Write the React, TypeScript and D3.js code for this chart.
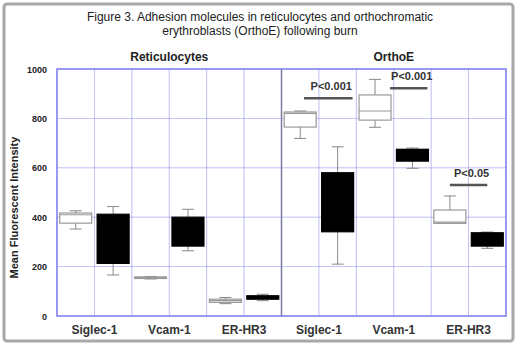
import { useEffect, useRef } from 'react'
import * as d3 from 'd3'

// one entry per box, left to right (reticulocytes then OrthoE)
const groups = ['Reticulocytes', 'OrthoE']
const markers = ['Siglec-1', 'Vcam-1', 'ER-HR3']
const boxFill = ['white', 'black', 'white', 'black', 'white', 'black', 'white', 'black', 'white', 'black', 'white', 'black']
const whiskerLow = [352, 166, 150, 264, 50, 62, 719, 210, 764, 598, 375, 274]
const q1 = [376, 213, 153, 283, 55, 68, 765, 341, 793, 627, 375, 283]
const median = [410, 300, 156, 340, 62, 75, 820, 450, 830, 668, 380, 300]
const q3 = [417, 412, 158, 400, 68, 82, 826, 580, 895, 675, 429, 337]
const whiskerHigh = [426, 443, 160, 432, 75, 88, 830, 685, 958, 680, 486, 340]

const yTicks = [0, 200, 400, 600, 800, 1000]

// significance bars: start/end in slot units, value level
const sigLabels = ['P<0.001', 'P<0.001', 'P<0.05']
const sigFrom = [6.6, 8.9, 10.5]
const sigTo = [7.9, 9.9, 11.5]
const sigLevel = [882, 922, 530]

export default function App() {
  const svgRef = useRef<SVGSVGElement | null>(null)
  const width = 520
  const height = 346

  useEffect(() => {
    if (!svgRef.current) return
    const svg = d3.select(svgRef.current)
    svg.selectAll('*').remove()

    const left = 57
    const right = 506
    const top = 69
    const bottom = 316
    const font = 'Arial, "Liberation Sans", sans-serif'
    const grid = '#8c8cf0'

    svg.append('rect')
      .attr('x', 4).attr('y', 4).attr('width', 509).attr('height', 337)
      .attr('rx', 3)
      .attr('fill', 'white').attr('stroke', '#a8a8a8').attr('stroke-width', 3)

    const slots = d3.range(12)
    const x = d3.scaleLinear().domain([0, 12]).range([left, right])
    const y = d3.scaleLinear().domain([0, 1000]).range([bottom, top])

    svg.append('text')
      .attr('x', 260).attr('y', 21)
      .attr('text-anchor', 'middle')
      .style('font', `12px ${font}`)
      .attr('fill', '#222')
      .text('Figure 3. Adhesion molecules in reticulocytes and orthochromatic')
    svg.append('text')
      .attr('x', 260).attr('y', 35)
      .attr('text-anchor', 'middle')
      .style('font', `12px ${font}`)
      .attr('fill', '#222')
      .text('erythroblasts (OrthoE) following burn')

    // grid
    const g = svg.append('g')
    g.selectAll('.vgrid')
      .data(d3.range(1, 12))
      .join('line')
      .attr('x1', d => x(d)).attr('x2', d => x(d))
      .attr('y1', top).attr('y2', bottom)
      .attr('stroke', d => (d === 6 ? '#7a7a9a' : grid))
      .attr('stroke-width', d => (d === 6 ? 1.5 : 0.8))
      .attr('opacity', d => (d === 6 ? 1 : 0.7))
    g.selectAll('.hgrid')
      .data(yTicks.slice(1, -1))
      .join('line')
      .attr('x1', left).attr('x2', right)
      .attr('y1', d => y(d)).attr('y2', d => y(d))
      .attr('stroke', grid).attr('stroke-width', 0.8).attr('opacity', 0.7)
    g.append('rect')
      .attr('x', left).attr('y', top)
      .attr('width', right - left).attr('height', bottom - top)
      .attr('fill', 'none').attr('stroke', '#7878ee').attr('stroke-width', 1.5)

    // tick labels
    g.selectAll('.ytick')
      .data(yTicks)
      .join('text')
      .attr('x', left - 10).attr('y', d => y(d) + 3.5)
      .attr('text-anchor', 'end')
      .style('font', `bold 9px ${font}`)
      .attr('fill', '#222')
      .text(d => d)

    svg.append('text')
      .attr('transform', `translate(18,${(top + bottom) / 2 + 15}) rotate(-90)`)
      .attr('text-anchor', 'middle')
      .style('font', `bold 11px ${font}`)
      .attr('fill', '#222')
      .text('Mean Fluorescent Intensity')

    groups.forEach((name, i) => {
      svg.append('text')
        .attr('x', x(i * 6 + 3)).attr('y', 61)
        .attr('text-anchor', 'middle')
        .style('font', `bold 12px ${font}`)
        .attr('fill', '#222')
        .text(name)
      markers.forEach((m, j) => {
        svg.append('text')
          .attr('x', x(i * 6 + j * 2 + 1)).attr('y', 334)
          .attr('text-anchor', 'middle')
          .style('font', `bold 12px ${font}`)
          .attr('fill', '#333')
          .text(m)
      })
    })

    // boxes
    const bw = 32
    const boxes = svg.append('g')
    slots.forEach(i => {
      const cx = x(i + 0.5)
      const b = boxes.append('g')
      b.append('line')
        .attr('x1', cx).attr('x2', cx)
        .attr('y1', y(whiskerLow[i])).attr('y2', y(whiskerHigh[i]))
        .attr('stroke', '#888').attr('stroke-width', 1)
      ;[whiskerLow[i], whiskerHigh[i]].forEach(v => {
        b.append('line')
          .attr('x1', cx - 6).attr('x2', cx + 6)
          .attr('y1', y(v)).attr('y2', y(v))
          .attr('stroke', '#888').attr('stroke-width', 1)
      })
      b.append('rect')
        .attr('x', cx - bw / 2).attr('y', y(q3[i]))
        .attr('width', bw).attr('height', Math.max(1.5, y(q1[i]) - y(q3[i])))
        .attr('fill', boxFill[i])
        .attr('stroke', boxFill[i] === 'black' ? 'black' : '#999')
        .attr('stroke-width', 1.2)
      if (boxFill[i] === 'white') {
        b.append('line')
          .attr('x1', cx - bw / 2).attr('x2', cx + bw / 2)
          .attr('y1', y(median[i])).attr('y2', y(median[i]))
          .attr('stroke', '#999').attr('stroke-width', 1.2)
      }
    })

    // significance
    sigLabels.forEach((lbl, i) => {
      svg.append('line')
        .attr('x1', x(sigFrom[i])).attr('x2', x(sigTo[i]))
        .attr('y1', y(sigLevel[i])).attr('y2', y(sigLevel[i]))
        .attr('stroke', '#555').attr('stroke-width', 2.5)
      svg.append('text')
        .attr('x', (x(sigFrom[i]) + x(sigTo[i])) / 2 + 3)
        .attr('y', y(sigLevel[i]) - 8)
        .attr('text-anchor', 'middle')
        .style('font', `bold 11px ${font}`)
        .attr('fill', '#333')
        .text(lbl)
    })
  }, [])

  return <svg ref={svgRef} width={width} height={height} style={{ position: 'absolute', left: 0, top: 0 }} />
}
